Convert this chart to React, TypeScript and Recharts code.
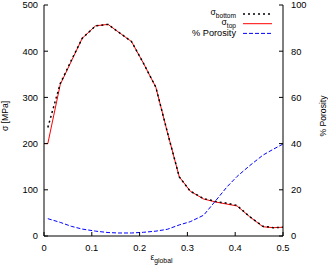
import React from 'react';
import { LineChart, Line, XAxis, YAxis, Legend, Label } from 'recharts';

// global strain values where the curves were sampled
const strain = [0, 0.008, 0.034, 0.057, 0.08, 0.108, 0.134, 0.155, 0.183, 0.208, 0.234, 0.258, 0.283, 0.306, 0.334, 0.362, 0.383, 0.404, 0.43, 0.458, 0.48, 0.5];
const sigmaTop = [200, 200, 328, 378, 428, 455, 458, 442, 421, 374, 322, 225, 128, 97, 80, 73, 69, 65, 42, 20, 18, 19];
const sigmaBottom = [null, 235, 330, 380, 428, 455, 458, 442, 421, 374, 322, 225, 128, 97, 81, 74, 71, 66, 42, 21, 18, 19];
const porosity = [null, 7.5, 5.9, 4.2, 3.0, 2.1, 1.5, 1.3, 1.3, 1.6, 2.1, 2.9, 4.8, 6.2, 9.0, 16.0, 21.3, 25.8, 30.4, 35.0, 37.6, 39.8];

const xTicks = [0, 0.1, 0.2, 0.3, 0.4, 0.5];
const sigmaTicks = [0, 100, 200, 300, 400, 500];
const porosityTicks = [0, 20, 40, 60, 80, 100];

const data = strain.map((e, i) => ({
  e,
  top: sigmaTop[i],
  bottom: sigmaBottom[i],
  porosity: porosity[i],
}));

const FONT = '"Liberation Sans", Arial, Helvetica, sans-serif';
const tickStyle = { fill: '#000', fontSize: 9.3, fontFamily: FONT };

// legend drawn gnuplot style: text right aligned, sample line on the right
const legendOrder = ['bottom', 'top', 'porosity'];
const dashes: Record<string, string | undefined> = { bottom: '2 3', top: undefined, porosity: '4 2' };
const widths: Record<string, number> = { bottom: 1.5, top: 1, porosity: 1 };

function GnuplotLegend(props: any) {
  const items = [...(props.payload || [])].sort(
    (a: any, b: any) => legendOrder.indexOf(a.dataKey) - legendOrder.indexOf(b.dataKey)
  );
  return (
    <svg width={328} height={40} style={{ position: 'absolute', left: 0, top: 0, overflow: 'visible' }}>
      {items.map((it: any, i: number) => {
        const y = 14 + i * 9.7;
        const [main, sub] = String(it.value).split('_');
        return (
          <g key={it.dataKey}>
            <text x={236} y={y + (sub ? 1 : 3)} textAnchor="end" fontSize={sub ? 8.6 : 9.2} fontFamily={FONT} fill="#000">
              {main}
              {sub ? (
                <tspan dy={3.2} fontSize={6.6}>
                  {sub}
                </tspan>
              ) : null}
            </text>
            <line x1={243} x2={272} y1={y} y2={y} stroke={it.color} strokeWidth={widths[it.dataKey]} strokeDasharray={dashes[it.dataKey]} />
          </g>
        );
      })}
    </svg>
  );
}

export default function App() {
  return (
    <div style={{ position: 'absolute', left: 0, top: 0, background: '#fff' }}>
      <LineChart width={328} height={268} data={data} margin={{ top: 5, right: 0, bottom: 0, left: 0 }}>
        <XAxis
          xAxisId="bottom"
          dataKey="e"
          type="number"
          domain={[0, 0.5]}
          ticks={xTicks}
          height={32}
          tickSize={-4}
          tickMargin={12}
          tick={tickStyle}
          stroke="#000"
          interval={0}
        >
          <Label
            content={() => (
              <text x={150.5} y={259.5} fontSize={8.5} fontFamily={FONT} fill="#000">
                ε
                <tspan dy={3.5} fontSize={6.8}>
                  global
                </tspan>
              </text>
            )}
          />
        </XAxis>
        <XAxis
          xAxisId="top"
          orientation="top"
          type="number"
          domain={[0, 0.5]}
          ticks={xTicks}
          height={0}
          tickSize={-4}
          tick={() => <g />}
          stroke="#000"
          interval={0}
        />
        <YAxis
          yAxisId="left"
          domain={[0, 500]}
          ticks={sigmaTicks}
          width={44}
          tickSize={-4}
          tickMargin={10}
          tick={tickStyle}
          stroke="#000"
          interval={0}
        >
          <Label
            content={() => (
              <text x={7.5} y={116} transform="rotate(-90 7.5 116)" textAnchor="middle" fontSize={8.6} fontFamily={FONT} fill="#000">
                σ [MPa]
              </text>
            )}
          />
        </YAxis>
        <YAxis
          yAxisId="right"
          orientation="right"
          domain={[0, 100]}
          ticks={porosityTicks}
          width={45}
          tickSize={-4}
          tickMargin={12}
          tick={tickStyle}
          stroke="#000"
          interval={0}
        >
          <Label
            content={() => (
              <text x={326} y={116} transform="rotate(-90 326 116)" textAnchor="middle" fontSize={8.6} fontFamily={FONT} fill="#000">
                % Porosity
              </text>
            )}
          />
        </YAxis>
        <Legend content={GnuplotLegend} wrapperStyle={{ position: 'absolute', left: 0, top: 0, width: 0, height: 0 }} />
        <Line
          xAxisId="bottom"
          yAxisId="left"
          dataKey="top"
          name="σ_top"
          stroke="#ff0000"
          strokeWidth={1}
          dot={false}
          isAnimationActive={false}
        />
        <Line
          xAxisId="bottom"
          yAxisId="left"
          dataKey="bottom"
          name="σ_bottom"
          stroke="#000000"
          strokeWidth={1.5}
          strokeDasharray="2 3"
          dot={false}
          isAnimationActive={false}
        />
        <Line
          xAxisId="bottom"
          yAxisId="right"
          dataKey="porosity"
          name="% Porosity"
          stroke="#0000ff"
          strokeWidth={1}
          strokeDasharray="4 2"
          dot={false}
          isAnimationActive={false}
        />
      </LineChart>
    </div>
  );
}
